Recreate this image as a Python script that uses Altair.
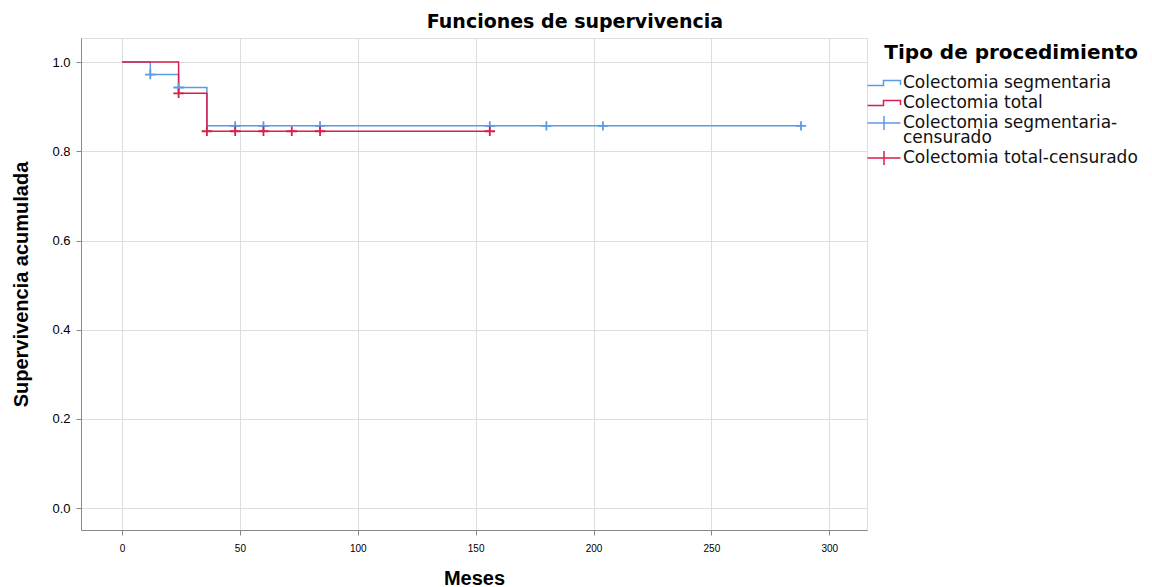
import altair as alt
import pandas as pd

series = ["Colectomia segmentaria", "Colectomia total",
          "Colectomia segmentaria-censurado", "Colectomia total-censurado"]
colors = ["#5A9BE6", "#D81E4A", "#5A9BE6", "#D81E4A"]

# Kaplan-Meier steps
seg_t = [0, 12, 24, 36, 288]
seg_s = [1.0, 0.972, 0.943, 0.857, 0.857]
tot_t = [0, 24, 36, 156]
tot_s = [1.0, 0.930, 0.845, 0.845]

# censored observations
seg_cens_t = [12, 24, 48, 60, 84, 156, 180, 204, 288]
seg_cens_s = [0.972, 0.943, 0.857, 0.857, 0.857, 0.857, 0.857, 0.857, 0.857]
tot_cens_t = [24, 36, 48, 60, 72, 84, 156]
tot_cens_s = [0.930, 0.845, 0.845, 0.845, 0.845, 0.845, 0.845]

x_ticks = [0, 50, 100, 150, 200, 250, 300]
y_ticks = [0.0, 0.2, 0.4, 0.6, 0.8, 1.0]

lines = pd.DataFrame({
    "t": seg_t + tot_t,
    "s": seg_s + tot_s,
    "serie": [series[0]] * len(seg_t) + [series[1]] * len(tot_t),
})
cens = pd.DataFrame({
    "t": seg_cens_t + tot_cens_t,
    "s": seg_cens_s + tot_cens_s,
    "serie": [series[2]] * len(seg_cens_t) + [series[3]] * len(tot_cens_t),
})

step_path = "M-1.65,0.25H-0.05V-0.25H1.65V0.2"
legend_cross = "M-1.65,0H1.65M0,-0.7V0.7"
data_cross = "M-1,0H1M0,-0.9V0.9"

FONT = "DejaVu Sans"
LABEL_FONT = "Liberation Sans Narrow, Liberation Sans, sans-serif"

xscale = alt.Scale(domain=[-17.4, 316], nice=False, zero=False)
yscale = alt.Scale(domain=[-0.049, 1.054], nice=False, zero=False)
cscale = alt.Scale(domain=series, range=colors)
sscale = alt.Scale(domain=series, range=[step_path, step_path, legend_cross, legend_cross])

x_enc = alt.X("t:Q", scale=xscale, title="Meses",
              axis=alt.Axis(values=x_ticks, format="d", labelPadding=8,
                            titlePadding=15, titleFontSize=20))
y_enc = alt.Y("s:Q", scale=yscale, title="Supervivencia acumulada",
              axis=alt.Axis(values=y_ticks, format=".1f", labelPadding=6,
                            titlePadding=20, titleFontSize=20,
                            labelFont="Liberation Sans", labelFontSize=13))

legend = alt.Legend(
    title="Tipo de procedimiento",
    titleFont=FONT, titleFontSize=20, titleFontWeight="bold", titleColor="#000",
    titleAnchor="end", titlePadding=9, titleLimit=500,
    labelFont=FONT, labelFontSize=17, labelColor="#111", labelLimit=400,
    labelExpr="datum.label == 'Colectomia segmentaria-censurado' ? ['Colectomia segmentaria-', 'censurado'] : datum.label",
    symbolSize=400, symbolStrokeWidth=1.5, symbolOpacity=1, symbolOffset=5,
    rowPadding=1, labelOffset=8,
    orient="none", legendX=787, legendY=5, padding=0,
)

line_layer = alt.Chart(lines).mark_line(interpolate="step-after", strokeWidth=1.5).encode(
    x=x_enc, y=y_enc,
    color=alt.Color("serie:N", scale=cscale, legend=legend),
)

legend_layer = alt.Chart(cens).mark_point(filled=False, size=0, strokeWidth=1.5, opacity=1).encode(
    x=x_enc, y=y_enc,
    color=alt.Color("serie:N", scale=cscale, legend=legend),
    shape=alt.Shape("serie:N", scale=sscale, legend=legend),
)

cross_layer = alt.Chart(cens).mark_point(
    filled=False, size=110, strokeWidth=1.8, opacity=1, shape=data_cross
).encode(
    x=x_enc, y=y_enc,
    color=alt.Color("serie:N", scale=cscale, legend=legend),
)

chart = alt.layer(line_layer, legend_layer, cross_layer).properties(
    width=786, height=492,
    title=alt.Title("Funciones de supervivencia", font=FONT, fontSize=19,
                    fontWeight="bold", color="#000", offset=6, frame="bounds"),
).configure_view(stroke=None).configure_axis(
    domainColor="#777", domainWidth=1.5, gridColor="#d0d0d0", gridWidth=1.5,
    ticks=False, labelFont=LABEL_FONT, labelFontSize=13, labelColor="#222",
    titleFont=FONT, titleFontWeight="bold", titleColor="#000",
).configure(
    padding={"left": 3, "top": 5, "right": 0, "bottom": 0},
    style={"guide-label": {"lineHeight": 15}},
)

chart.save("out.html", embed_options={"renderer": "svg", "actions": False})
